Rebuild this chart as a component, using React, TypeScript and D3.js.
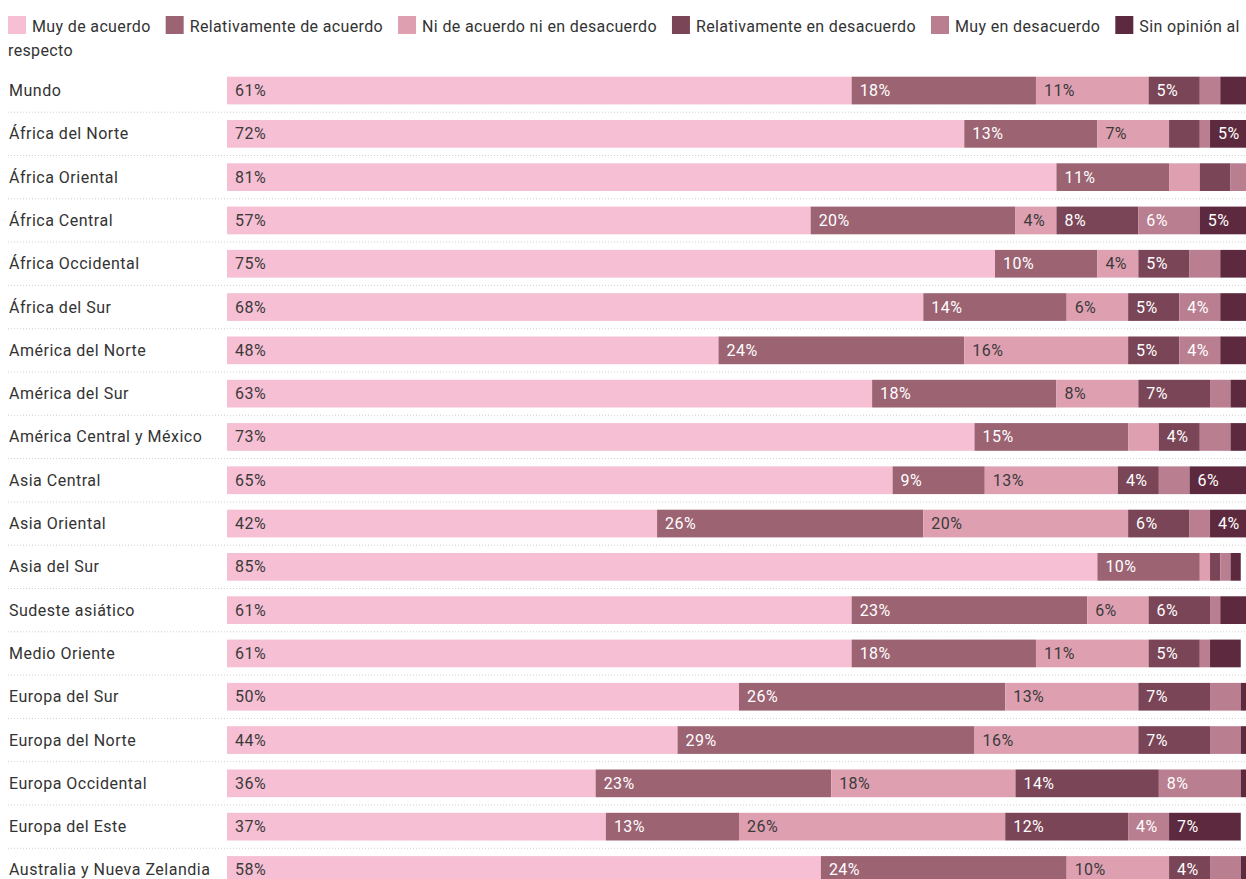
import { useRef, useEffect } from 'react'
import * as d3 from 'd3'

const W = 1246
const H = 879
const FONT = "Roboto, 'Noto Sans', sans-serif"
const LS = 0.5 // letter spacing for labels, the original renders a touch wider
const LEGEND_LS = 0.36
const TEXT = '#333333'
const GRID = '#cfcfcf'

const SERIES_NAMES = [
  'Muy de acuerdo',
  'Relativamente de acuerdo',
  'Ni de acuerdo ni en desacuerdo',
  'Relativamente en desacuerdo',
  'Muy en desacuerdo',
  'Sin opinión al respecto',
]
const SERIES_COLORS = ['#f6bfd3', '#9c6373', '#dea0b1', '#7a4557', '#b97e90', '#5c293e']
// light segments get dark labels
const LABEL_COLORS = ['#3a3a3a', '#ffffff', '#3a3a3a', '#ffffff', '#ffffff', '#ffffff']

const regions = [
  'Mundo',
  'África del Norte',
  'África Oriental',
  'África Central',
  'África Occidental',
  'África del Sur',
  'América del Norte',
  'América del Sur',
  'América Central y México',
  'Asia Central',
  'Asia Oriental',
  'Asia del Sur',
  'Sudeste asiático',
  'Medio Oriente',
  'Europa del Sur',
  'Europa del Norte',
  'Europa Occidental',
  'Europa del Este',
  'Australia y Nueva Zelandia',
]

const muyDeAcuerdo = [61, 72, 81, 57, 75, 68, 48, 63, 73, 65, 42, 85, 61, 61, 50, 44, 36, 37, 58]
const relDeAcuerdo = [18, 13, 11, 20, 10, 14, 24, 18, 15, 9, 26, 10, 23, 18, 26, 29, 23, 13, 24]
const niNi = [11, 7, 3, 4, 4, 6, 16, 8, 3, 13, 20, 1, 6, 11, 13, 16, 18, 26, 10]
const relEnDesacuerdo = [5, 3, 3, 8, 5, 5, 5, 7, 4, 4, 6, 1, 6, 5, 7, 7, 14, 12, 4]
const muyEnDesacuerdo = [2, 1, 2, 6, 3, 4, 4, 2, 3, 3, 2, 1, 1, 1, 3, 3, 8, 4, 3]
const sinOpinion = [3, 5, 0, 5, 3, 3, 3, 2, 2, 6, 4, 1, 3, 3, 1, 1, 1, 7, 1]

const SERIES = [muyDeAcuerdo, relDeAcuerdo, niNi, relEnDesacuerdo, muyEnDesacuerdo, sinOpinion]

const BAR_X0 = 227
const BAR_X1 = 1251
const ROWS_TOP = 68.9
const ROW_STEP = 43.3

export default function App() {
  const svgRef = useRef<SVGSVGElement>(null)

  useEffect(() => {
    const svg = svgRef.current
    if (!svg) return
    const sel = d3.select(svg)
    sel.selectAll('*').remove()

    const addText = (parent: any, s: string, tx: number, ty: number, fill: string, ls = LS) =>
      parent.append('text')
        .attr('x', tx).attr('y', ty)
        .attr('font-family', FONT).attr('font-size', 16)
        .attr('letter-spacing', ls)
        .attr('fill', fill)
        .text(s)

    // ---- legend (flows and wraps like inline text)
    const legend = sel.append('g').attr('class', 'legend')
    const measure = (s: string) => {
      const t = addText(legend, s, 0, 0, 'none', LEGEND_LS)
      const w = (t.node() as SVGTextElement).getComputedTextLength()
      t.remove()
      return w
    }
    const spaceW = measure('a b') - measure('ab')
    const maxX = 1252
    let lx = 8
    let line = 0
    const lineY = (l: number) => 31.5 + l * 24
    SERIES_NAMES.forEach((name, i) => {
      const words = name.split(' ')
      if (lx + 24 + measure(words[0]) > maxX) {
        lx = 8
        line++
      }
      legend.append('rect')
        .attr('x', lx).attr('y', lineY(line) - 15.5)
        .attr('width', 18).attr('height', 18)
        .attr('fill', SERIES_COLORS[i])
      lx += 24
      let chunk = ''
      let chunkX = lx
      words.forEach((w) => {
        const ww = measure(w)
        const needed = chunk ? spaceW + ww : ww
        if (lx + needed > maxX && chunk) {
          addText(legend, chunk, chunkX, lineY(line), TEXT, LEGEND_LS)
          line++
          lx = 8 + ww
          chunkX = 8
          chunk = w
        } else {
          chunk = chunk ? chunk + ' ' + w : w
          lx += needed
        }
      })
      addText(legend, chunk, chunkX, lineY(line), TEXT, LEGEND_LS)
      lx += 15
    })

    // ---- chart
    const x = d3.scaleLinear().domain([0, 100]).range([BAR_X0, BAR_X1])
    const y = d3.scaleBand<string>()
      .domain(regions)
      .range([ROWS_TOP, ROWS_TOP + ROW_STEP * regions.length])
      .paddingInner(0.36)
      .paddingOuter(0.18)

    const g = sel.append('g').attr('class', 'rows')

    // dotted separators between rows
    regions.slice(1).forEach((r) => {
      const yy = (y(r) as number) - (y.step() - y.bandwidth()) / 2
      g.append('line')
        .attr('x1', 8).attr('x2', W)
        .attr('y1', yy).attr('y2', yy)
        .attr('stroke', GRID)
        .attr('stroke-width', 1)
        .attr('stroke-dasharray', '1,2')
    })

    regions.forEach((r, ri) => {
      const top = y(r) as number
      const cy = top + y.bandwidth() / 2
      addText(g, r, 9, cy + 5.5, TEXT)

      let acc = 0
      SERIES.forEach((vals, si) => {
        const v = vals[ri]
        const x0 = x(acc)
        const x1 = x(acc + v)
        acc += v
        if (v <= 0) return
        g.append('rect')
          .attr('x', x0).attr('y', top)
          .attr('width', x1 - x0).attr('height', y.bandwidth())
          .attr('fill', SERIES_COLORS[si])
        if (v >= 4) {
          addText(g, `${v}%`, x0 + 8, cy + 5.5, LABEL_COLORS[si], 0.45)
        }
      })
    })
  }, [])

  return (
    <svg
      ref={svgRef}
      width={W}
      height={H}
      style={{ position: 'absolute', left: 0, top: 0, background: '#fff' }}
    />
  )
}
